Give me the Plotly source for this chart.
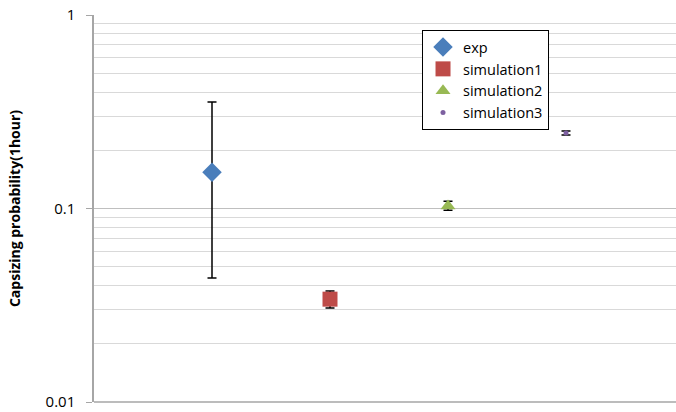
import plotly.graph_objects as go

names = ["exp", "simulation1", "simulation2", "simulation3"]
xpos = [1, 2, 3, 4]
values = [0.154, 0.034, 0.103, 0.2455]
err_plus = [0.201, 0.0035, 0.006, 0.0058]
err_minus = [0.1103, 0.0034, 0.005, 0.0056]
colors = ["#4A7EBB", "#BE4B48", "#98B954", "#7D60A0"]
symbols = ["diamond", "square", "triangle-up", "circle"]
sizes = [15, 15, 13, 5]

fig = go.Figure()
for i in range(4):
    fig.add_trace(go.Scatter(
        x=[xpos[i]], y=[values[i]], mode="markers", name=names[i],
        marker=dict(color=colors[i], symbol=symbols[i], size=sizes[i], line=dict(width=0)),
        error_y=dict(type="data", array=[err_plus[i]], arrayminus=[err_minus[i]],
                     symmetric=False, color="black", thickness=1.5, width=4.5),
    ))

minor_vals = [m * 10 ** e for e in (-2, -1) for m in range(2, 10)]

fig.update_layout(
    width=676, height=412,
    margin=dict(l=94, r=0, t=15, b=10),
    plot_bgcolor="white", paper_bgcolor="white",
    font=dict(family="Open Sans, Liberation Sans, sans-serif", color="black"),
    showlegend=True,
    legend=dict(x=0.5636, y=0.961, xanchor="left", yanchor="top",
                bordercolor="black", borderwidth=1, bgcolor="white",
                font=dict(size=14.5), tracegroupgap=0, itemsizing="trace"),
    xaxis=dict(range=[0, 582 / 118], showgrid=False, zeroline=False,
               showticklabels=False, ticks="", showline=False),
    yaxis=dict(type="log", range=[-2, 0], tickvals=[0.01, 0.1, 1],
               ticktext=["0.01", "0.1", "1"], ticks="outside", ticklen=6,
               tickcolor="#a6a6a6", showline=True, linecolor="#a6a6a6", linewidth=1.5,
               showgrid=True, gridcolor="#bfbfbf", gridwidth=1,
               tickfont=dict(size=15), ticklabelstandoff=8,
               minor=dict(tickvals=minor_vals, showgrid=True, gridcolor="#d9d9d9", gridwidth=1, ticks=""),
               title=dict(text="<b>Capsizing probability(1hour)</b>", font=dict(size=14), standoff=22),
               zeroline=False),
)
fig.add_shape(type="line", xref="paper", yref="paper", x0=0, x1=1, y0=0, y1=0,
              line=dict(color="#a6a6a6", width=1.5))

fig.write_html("out.html")
